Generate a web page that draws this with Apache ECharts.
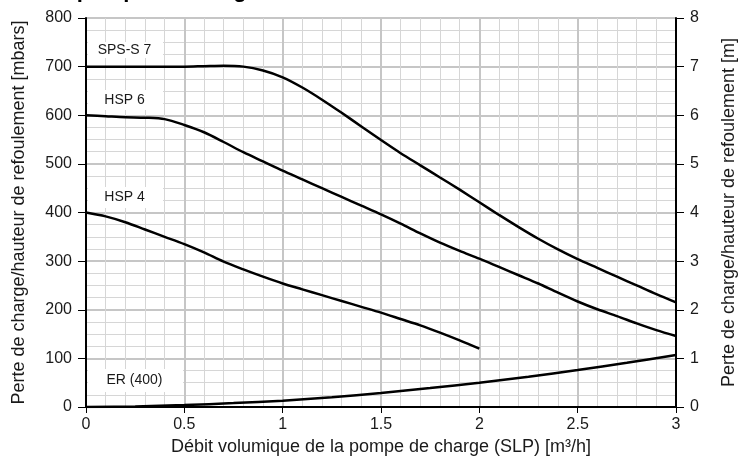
<!DOCTYPE html>
<html>
<head>
<meta charset="utf-8">
<script src="https://cdn.jsdelivr.net/npm/echarts@6/dist/echarts.min.js"></script>
<style>html,body{margin:0;padding:0;background:#fff;}#c{width:746px;height:466px;}</style>
</head>
<body>
<div id="c"></div>
<script>
// ---- data ----
const flowX = [0,0.1,0.2,0.3,0.4,0.5,0.6,0.7,0.8,0.9,1.0,1.1,1.2,1.3,1.4,1.5,1.6,1.7,1.8,1.9,2.0,2.1,2.2,2.3,2.4,2.5,2.6,2.7,2.8,2.9,3.0];
const spsS7 = [700,700,700,700,700,700,701,702,700,692,678,657,632,605,577,549,522,497,472,447,421,395,370,346,324,304,286,268,250,232,215];
const hsp6  = [600,598,596,595,592,580,565,545,524,505,486,468,450,432,414,396,377,357,338,321,305,288,271,254,235,217,201,187,172,158,146];
const hsp4X = [0,0.1,0.2,0.3,0.4,0.5,0.6,0.7,0.8,0.9,1.0,1.1,1.2,1.3,1.4,1.5,1.6,1.7,1.8,1.9,2.0];
const hsp4  = [400,392,380,365,350,335,318,299,283,268,254,242,230,218,206,194,181,168,153,137,120];
const erX   = [0,0.25,0.5,0.75,1.0,1.25,1.5,1.75,2.0,2.25,2.5,2.75,3.0];
const er400 = [0,1,4,8,13,20,29,39,50,62,76,91,107];

const curveNames = ['SPS-S 7','HSP 6','HSP 4','ER (400)'];
const titleText = 'La pompe de charge';
const xName = 'Débit volumique de la pompe de charge (SLP) [m³/h]';
const yNameLeft = 'Perte de charge/hauteur de refoulement [mbars]';
const yNameRight = 'Perte de charge/hauteur de refoulement [m]';

const FONT = '"Liberation Sans", Arial, Helvetica, sans-serif';
const pairs = (xs, ys) => xs.map((x, i) => [x, ys[i]]);

const chart = echarts.init(document.getElementById('c'), null, {renderer: 'canvas'});

function labelBox(text, x, y, w, h) {
  return {
    type: 'group', left: x, top: y, z: 100,
    children: [
      {type: 'rect', z: 100, shape: {x: 0, y: 0, width: w, height: h}, style: {fill: '#ffffff'}},
      {type: 'text', z: 101, x: w / 2 - 1, y: h / 2, style: {text: text, font: '14px ' + FONT, fill: '#1a1a1a', align: 'center', verticalAlign: 'middle'}}
    ]
  };
}

const lineSeries = (name, data) => ({
  name: name, type: 'line', data: data, showSymbol: false, smooth: 0.3,
  lineStyle: {color: '#000', width: 2.5}, itemStyle: {color: '#000'}, z: 10,
  animation: false
});

chart.setOption({
  animation: false,
  backgroundColor: '#fff',
  textStyle: {fontFamily: FONT},
  grid: {left: 86, right: 70, top: 18, bottom: 59, show: true, borderColor: '#000', borderWidth: 1, backgroundColor: 'transparent'},
  graphic: [
    {type: 'text', left: 45, top: -20, z: 100, style: {text: titleText, font: 'bold 22px ' + FONT, fill: '#000'}},
    labelBox(curveNames[0], 88, 42, 75, 16),
    labelBox(curveNames[1], 88, 90, 75, 20),
    labelBox(curveNames[2], 88, 187, 75, 21),
    labelBox(curveNames[3], 88, 369, 95, 23)
  ],
  xAxis: {
    type: 'value', min: 0, max: 3, interval: 0.5,
    name: xName, nameLocation: 'middle', nameGap: 29,
    nameTextStyle: {fontSize: 18, color: '#1a1a1a', fontFamily: FONT},
    axisLine: {onZero: false, lineStyle: {color: '#000', width: 2}},
    axisTick: {show: true, length: 6, lineStyle: {color: '#000', width: 1}},
    axisLabel: {fontSize: 16, color: '#1a1a1a', margin: 10, fontFamily: FONT},
    splitLine: {show: true, lineStyle: {color: '#c6c6c6', width: 2}},
    minorTick: {show: false, splitNumber: 5},
    minorSplitLine: {show: true, lineStyle: {color: '#d6d6d6', width: 1}}
  },
  yAxis: [
    {
      type: 'value', min: 0, max: 800, interval: 100, position: 'left',
      name: yNameLeft, nameLocation: 'middle', nameGap: 58, nameRotate: 90,
      nameTextStyle: {fontSize: 18, color: '#1a1a1a', fontFamily: FONT},
      axisLine: {show: true, onZero: false, lineStyle: {color: '#000', width: 2}},
      axisTick: {show: true, length: 8, lineStyle: {color: '#000', width: 1}},
      axisLabel: {fontSize: 16, color: '#1a1a1a', margin: 14, fontFamily: FONT},
      splitLine: {show: true, lineStyle: {color: '#c6c6c6', width: 2}},
      minorTick: {show: false, splitNumber: 4},
      minorSplitLine: {show: true, lineStyle: {color: '#d6d6d6', width: 1}}
    },
    {
      type: 'value', min: 0, max: 8, interval: 1, position: 'right',
      name: yNameRight, nameLocation: 'middle', nameGap: 44, nameRotate: 90,
      nameTextStyle: {fontSize: 18, color: '#1a1a1a', fontFamily: FONT},
      axisLine: {show: true, onZero: false, lineStyle: {color: '#000', width: 2}},
      axisTick: {show: true, length: 8, lineStyle: {color: '#000', width: 1}},
      axisLabel: {fontSize: 16, color: '#1a1a1a', margin: 14, fontFamily: FONT},
      splitLine: {show: false}
    }
  ],
  series: [
    lineSeries(curveNames[0], pairs(flowX, spsS7)),
    lineSeries(curveNames[1], pairs(flowX, hsp6)),
    lineSeries(curveNames[2], pairs(hsp4X, hsp4)),
    lineSeries(curveNames[3], pairs(erX, er400))
  ]
});
</script>
</body>
</html>
